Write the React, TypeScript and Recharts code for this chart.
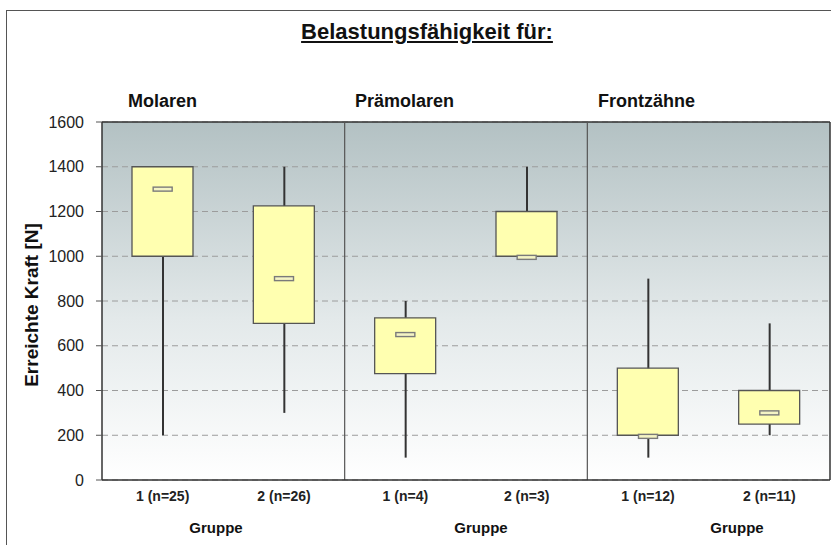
import React from "react";
import {
  ComposedChart,
  Bar,
  Scatter,
  XAxis,
  YAxis,
  CartesianGrid,
  ReferenceLine,
} from "recharts";

// groups (one per panel) and the six boxes
const panels = ["Molaren", "Prämolaren", "Frontzähne"];
const categories = ["1 (n=25)", "2 (n=26)", "1 (n=4)", "2 (n=3)", "1 (n=12)", "2 (n=11)"];
const whiskerMin = [200, 300, 100, 1000, 100, 200];
const boxLow = [1000, 700, 475, 1000, 200, 250];
const medians = [1300, 900, 650, 995, 195, 300];
const boxHigh = [1400, 1225, 725, 1200, 500, 400];
const whiskerMax = [1400, 1400, 800, 1400, 900, 700];
const yTicks = [0, 200, 400, 600, 800, 1000, 1200, 1400, 1600];

const data = categories.map((name, i) => ({
  name,
  whisker: [whiskerMin[i], whiskerMax[i]],
  box: [boxLow[i], boxHigh[i]],
  median: medians[i],
}));

const font = "'Liberation Sans', Arial, sans-serif";

const MedianMark = (props: any) => {
  const { cx, cy } = props;
  if (cx == null || cy == null) return null;
  return <rect x={cx - 9.5} y={cy - 2} width={19} height={4} fill="#f4f4c4" stroke="#7a7a7a" strokeWidth={1.4} />;
};

const text = (s: string, left: number, top: number, size: number, extra: any = {}) => (
  <div
    style={{
      position: "absolute",
      left,
      top,
      fontFamily: font,
      fontWeight: "bold",
      fontSize: size,
      color: "#111",
      whiteSpace: "nowrap",
      lineHeight: 1,
      ...extra,
    }}
  >
    {s}
  </div>
);

export default function App() {
  return (
    <div style={{ position: "fixed", left: 0, top: 0, width: 831, height: 545, background: "#fff", overflow: "hidden" }}>
      <div style={{ position: "absolute", left: 6, top: 10, width: 900, height: 700, border: "1.5px solid #555" }} />
      <div style={{ position: "absolute", left: 0, top: 0 }}>
        <ComposedChart width={831} height={545} data={data} margin={{ top: 122, right: 1, bottom: 0, left: 0 }}>
          <defs>
            <linearGradient id="bg" x1="0" y1="0" x2="0" y2="1">
              <stop offset="0%" stopColor="#b3c1c3" />
              <stop offset="55%" stopColor="#e3e9ea" />
              <stop offset="100%" stopColor="#ffffff" />
            </linearGradient>
          </defs>
          <CartesianGrid vertical={false} strokeDasharray="6 4" stroke="#9c9c9c" fill="url(#bg)" />
          <XAxis
            dataKey="name"
            height={65}
            tickLine={false}
            tickSize={0}
            tickMargin={11}
            axisLine={{ stroke: "#333", strokeWidth: 1.5 }}
            tick={{ fontSize: 14, fontWeight: "bold", fill: "#222", fontFamily: font }}
            interval={0}
          />
          <XAxis xAxisId="w" dataKey="name" hide />
          <YAxis
            width={102}
            domain={[0, 1600]}
            ticks={yTicks}
            tickSize={6}
            tickMargin={12}
            axisLine={{ stroke: "#333", strokeWidth: 1.5 }}
            tickLine={{ stroke: "#555" }}
            tick={{ fontSize: 16, fill: "#222", fontFamily: font }}
          />
          <ReferenceLine y={1600} stroke="#333" strokeWidth={1.5} />
          <ReferenceLine x={categories[1]} position="end" stroke="#555" strokeWidth={1.2} />
          <ReferenceLine x={categories[3]} position="end" stroke="#555" strokeWidth={1.2} />
          <ReferenceLine x={categories[5]} position="end" stroke="#333" strokeWidth={1.5} />
          <Bar xAxisId="w" dataKey="whisker" barSize={2} fill="#333" isAnimationActive={false} />
          <Bar dataKey="box" barSize={61} fill="#ffffb0" stroke="#555" strokeWidth={1.3} isAnimationActive={false} />
          <Scatter dataKey="median" shape={<MedianMark />} isAnimationActive={false} />
        </ComposedChart>
      </div>
      {text("Belastungsfähigkeit für:", 427, 21, 22, { transform: "translateX(-50%)", textDecoration: "underline" })}
      {text(panels[0], 128, 92, 18)}
      {text(panels[1], 355, 92, 18)}
      {text(panels[2], 598, 92, 18)}
      {text("Gruppe", 216, 520, 15, { transform: "translateX(-50%)" })}
      {text("Gruppe", 481, 520, 15, { transform: "translateX(-50%)" })}
      {text("Gruppe", 737, 520, 15, { transform: "translateX(-50%)" })}
      {text("Erreichte Kraft [N]", 31, 305, 19, { transform: "translate(-50%, -50%) rotate(-90deg)" })}
    </div>
  );
}
